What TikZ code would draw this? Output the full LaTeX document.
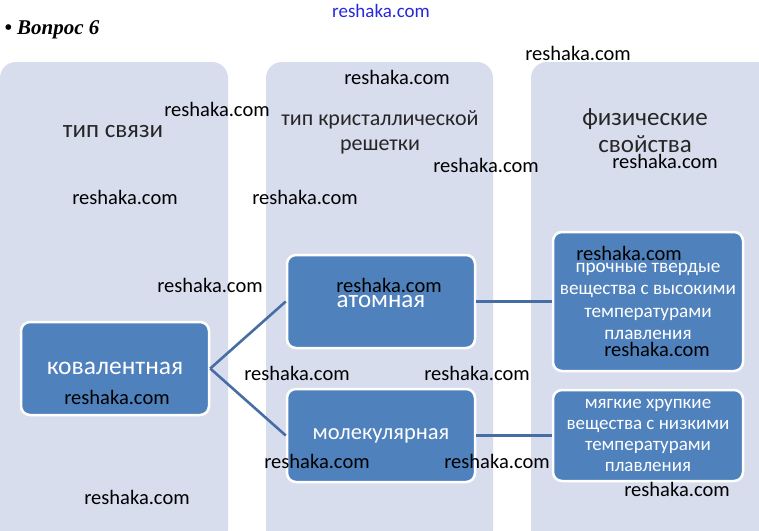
\documentclass[tikz,border=0pt]{standalone}
\usepackage{fontspec}
\setmainfont{Carlito}
\newfontfamily\serifbi{Liberation Serif}
\definecolor{colbg}{RGB}{216,221,237}
\definecolor{boxblue}{RGB}{79,129,189}
\definecolor{linkblue}{RGB}{70,110,165}
\definecolor{wmblue}{RGB}{40,40,220}
\tikzset{
  column/.style={fill=colbg, draw=none, rounded corners=16pt},
  bluebox/.style={fill=boxblue, draw=white, line width=2.5pt, rounded corners=9pt,
    minimum width=188pt, text=white, align=center, inner sep=1pt},
  header/.style={text=black!85, align=center, font=\fontsize{25}{27}\selectfont},
  link/.style={draw=linkblue, line width=2.6pt},
  wm/.style={text=black, font=\fontsize{20.5}{22}\selectfont},
}
\begin{document}
\begin{tikzpicture}[x=1pt,y=-1pt]
\useasboundingbox (0,0) rectangle (759,530);
\clip (0,0) rectangle (759,530);
\fill[white] (0,0) rectangle (759,530);
% columns
\fill[column] (0,62) rectangle (228,580);
\fill[column] (266,62) rectangle (493,580);
\fill[column] (531,62) rectangle (776,580);
% title
\node[anchor=west, font=\serifbi\bfseries\itshape\fontsize{21}{24}\selectfont] (title) at (1,30) {• Вопрос 6};
% headers
\node[header] (h1) at (113,132) {тип связи};
\node[header, font=\fontsize{22}{25}\selectfont] (h2) at (380,132) {тип кристаллической\\решетки};
\node[header] (h3) at (645,131) {физические\\свойства};
% boxes
\node[bluebox, minimum width=188pt, minimum height=93pt, font=\fontsize{25.5}{28}\selectfont] (cov) at (115,368.5) {ковалентная};
\node[bluebox, minimum width=188pt, minimum height=93pt, font=\fontsize{25}{28}\selectfont] (atom) at (381,301.5) {\raisebox{0pt}{атомная}};
\node[bluebox, minimum width=188pt, minimum height=93pt, font=\fontsize{22.5}{26}\selectfont] (mol) at (381,435.5) {молекулярная};
\node[bluebox, minimum width=190pt, minimum height=139pt, font=\fontsize{19.2}{22.5}\selectfont] (hard) at (648,301.5) {прочные твердые\\вещества с высокими\\температурами\\плавления};
\node[bluebox, minimum width=190pt, minimum height=91pt, font=\fontsize{19}{21}\selectfont] (soft) at (648,435.5) {мягкие хрупкие\\вещества с низкими\\температурами\\плавления};
% connectors
\draw[link] (cov.east) -- (atom.west);
\draw[link] (cov.east) -- (mol.west);
\draw[link] (atom.east) -- (hard.west);
\draw[link] (mol.east) -- (soft.west);
% watermarks
\node[text=wmblue, font=\fontsize{19}{20}\selectfont] (w0) at (381,11) {reshaka.com};
\node[wm] (w1) at (578,53) {reshaka.com};
\node[wm] (w2) at (397,77) {reshaka.com};
\node[wm] (w3) at (217,109) {reshaka.com};
\node[wm] (w4) at (486,165) {reshaka.com};
\node[wm] (w5) at (665,161) {reshaka.com};
\node[wm] (w6) at (125,197) {reshaka.com};
\node[wm] (w7) at (305,197) {reshaka.com};
\node[wm] (w8) at (629,253) {reshaka.com};
\node[wm] (w9) at (389,285) {reshaka.com};
\node[wm] (w10) at (210,285) {reshaka.com};
\node[wm] (w11) at (657,349) {reshaka.com};
\node[wm] (w12) at (297,373) {reshaka.com};
\node[wm] (w13) at (477,373) {reshaka.com};
\node[wm] (w14) at (117,397) {reshaka.com};
\node[wm] (w15) at (317,461) {reshaka.com};
\node[wm] (w16) at (497,461) {reshaka.com};
\node[wm] (w17) at (677,489) {reshaka.com};
\node[wm] (w18) at (137,497) {reshaka.com};
\end{tikzpicture}
\end{document}
